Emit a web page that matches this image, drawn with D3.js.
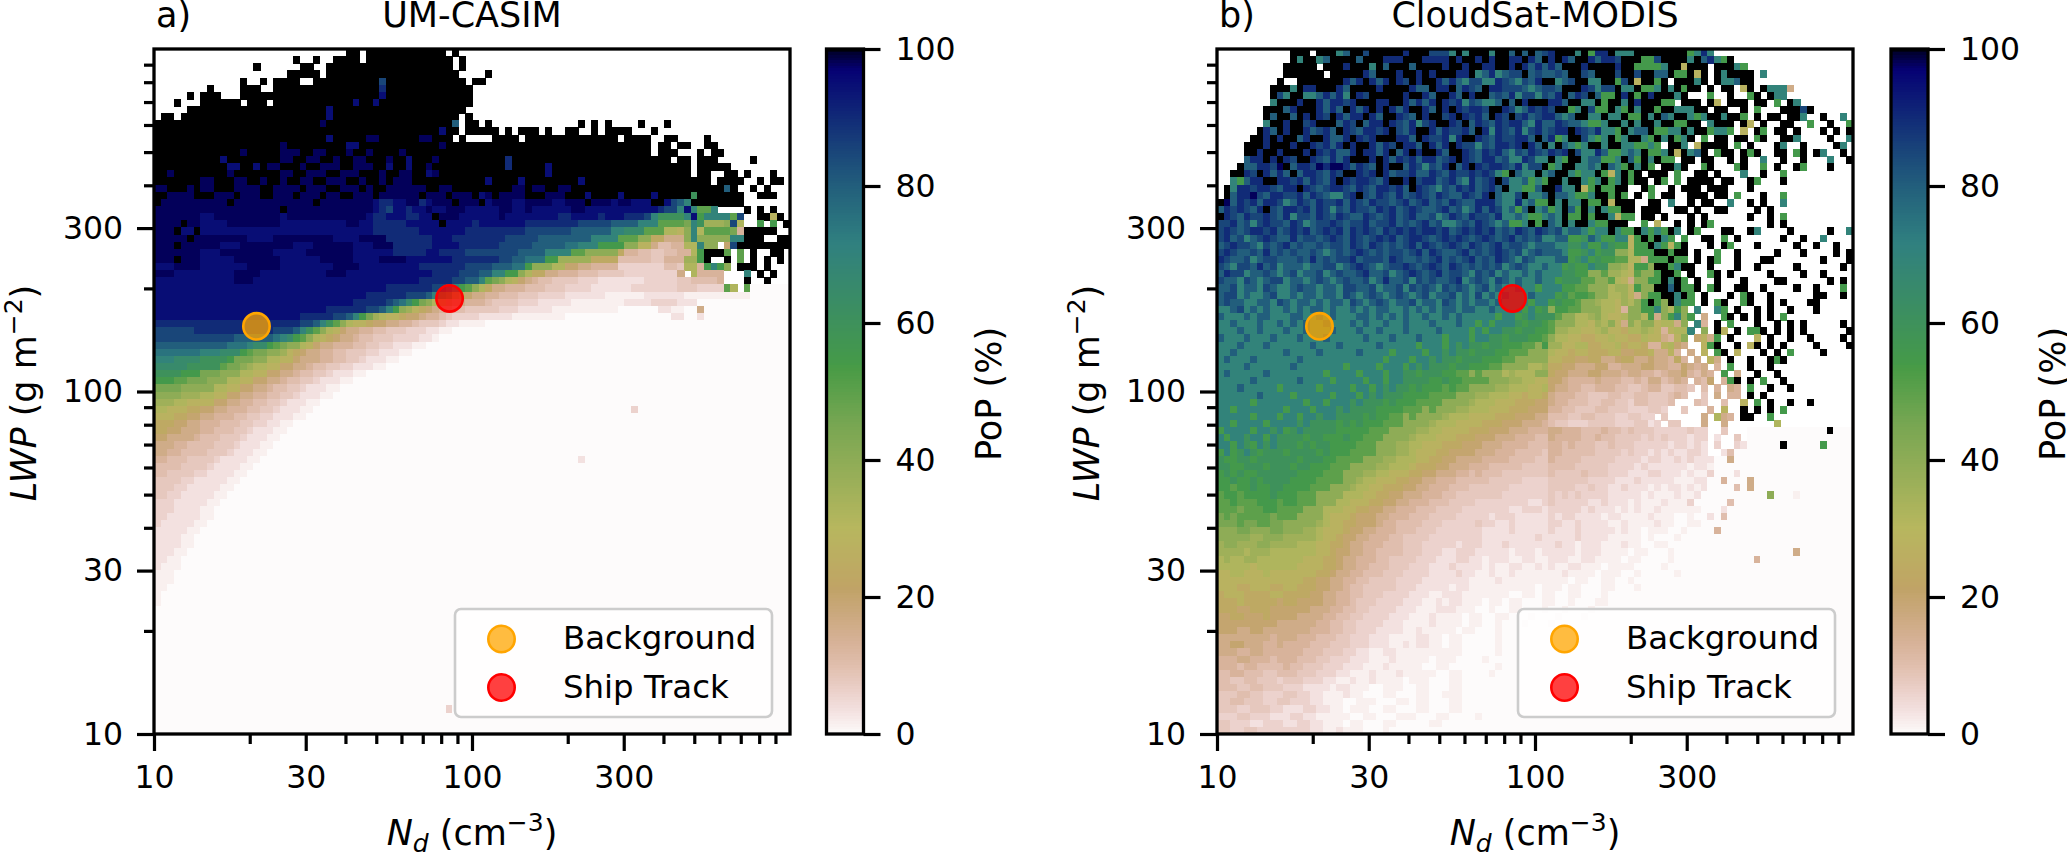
<!DOCTYPE html>
<html><head><meta charset="utf-8">
<script src="https://cdn.jsdelivr.net/npm/d3@7/dist/d3.min.js"></script>
<style>html,body{margin:0;padding:0;background:#fff}svg{display:block}text{font-family:"DejaVu Sans";fill:#000}</style>
</head><body><div id="c"></div>
<script>
const levelLetters="abcdefghijklmnopqrstuvwxyzZ".split("");
const levelValues=[0,1.5,3.5,6,8,10,13,16,20,24,28,32,36,40,45,50,55,60,65,70,75,80,85,90,95,98,100];
const xMajor=[10,30,100,300];
const xMinor=[20,40,50,60,70,80,90,200,400,500,600,700,800,900];
const yMajor=[10,30,100,300];
const yMinor=[20,40,50,60,70,80,90,200,400,500,600,700,800,900];
const cbTicks=[0,20,40,60,80,100];
const backgroundPoint=[21,155];
const shipPoint=[85,187];
const legendLabels=["Background","Ship Track"];
const panelTitles=["UM-CASIM","CloudSat-MODIS"];
const panelLetters=["a)","b)"];
const earthR=[[0,0],[.2824,.1882],[.4588,.2714],[.549,.4719],[.698,.7176],[.7882,.7553],[1,.9922]];
const earthG=[[0,0],[.0275,0],[.1098,.1893],[.1647,.3035],[.2078,.3841],[.2824,.502],[.5216,.6397],[.698,.7171],[.7882,.6392],[.8157,.6549],[.8667,.6991],[.898,.743],[.9412,.8275],[.9647,.8816],[.9961,.9733],[1,.9843]];
const earthB=[[0,0],[.0039,.1684],[.0078,.2212],[.0275,.4329],[.0314,.4549],[.2824,.5004],[.4667,.2748],[.5451,.3205],[.7843,.3961],[.8941,.6651],[1,.9843]];

const panelARows=[
".29Z2.1Z12.1Z",".21Z.2Z.2Z4.1Z13.1Z",".15Z.6Z2.2Z19.1Z",".20Z5.1Z20.4Z",".13Z.2Z.1Z4.2Z10wZ12.1Z2",
".8Z.4Z3.2Z16xZ13",".5Z.1Z3.3Z21yZ13",".3Z.3Z6.1Z3.1Z12yZ2yZ14",".5Z21yZ20",".1Z2.1Z22yZ19.1Z",
"Z25zZ19v.1Z2.1Z.13Z.1Z.1Z.4Z.3Z","Z43yZ2.1Z5.1Z.1Z3.1Z.2Z2.2Z.1Z4.3Z","Z26yZ5z2Z6z2Z3.1Z.4Z4.1Z14.1Z4.2Z2.4Z",
"Z19zZ9y2Z12zZ31.1Z2.1Z2.2Z2","Z13zZ5z3Z2z2Z3zZ2zZ4zZ37.1Z3.3Z.1Z2","Z10yZ8z2Z2z2Z2zZ2z2Z3zZ2yZ3zZ10xZ24.1Z2.1Z3.5Z",
"Z11y2Z2yZz2Z3zZ2z3Z2z3Z2yZ2yZ2zZ11xZ5yZ21.1Z5","Z2zZ8zZ7z2Z2z3Z2z3Z3zZ2z2Z2yzZ16yZ21.1Z2.2Z2.1Z.3Z",
"Z7z2Z3z2Z2zZ2zZ2z2Z2z3Z2zZ2zZz3Z11yZ4yZ8yZ19.1Z4.2Z.1Z2","z2Z3zZz2Z3z4Z2z4Zz3Z2z3ZzZ2z2z4Z2z2Z9z2Zz2Z2z2Z23vZ.2Z.1Z",
"Z2z4Z3z3Zz3Z2z3Zz3Zz2Z2z3Zz4z2Zz3Zz3ZyzZz4Z2Zz3Z3yZ4yZ4yZ5rZ7.2Z3",
"Zz10Zz12Zz8yx2y2z2xyz3Zz3Zyz3y2z4y2z3Zz3yz2y3Z2ywvtZ8",
"z19Zz13yxwy2xy2zy2z3y5z2y2zy6z2y6y5xw2tytp2t.4Z.1Z.1Z",
"z7y2z10yz12yx2y3x2y2Zz3y6zy8x2y4xy3x3wtr4tyqt4pw.2Z2kZ",
"z4Zz2y4z8y10z2y2x5y5Zy4xy7x8w5v4t3p4otrm3nwl.2q.1q.1Z",
"z3Zy2Zy26x7y7x9w7v6t2s3p3l2kntlp4ogZ5",
"z5Zz8y4z9y4z4x7y3x8w5v8t4p3n2j2h3ntn5t2Z3.2Z2",
"z3Zz6y3z8y3z6y3z3x6y4x6w5v5u2t3q4n2k2hf2g2l2tn2.1iwZ9",
"z7y3z8y5z7y6x5y2x4w8v4t4p2n5jg2f2e2f2g2lqZ3p.1p.1Z.2Z2",
"z3Zz3y5z7y6z5y4z4y7x7w2v2u3q2m5j4f5e2g3m2qZ.2Z.1p.1Z.1Z.1Z",
"y3z4y7z5y8z4y9x7w4v3u2qn3l2i2h2g4d7f2el2gqtqn.1Z3.1Z",
"z3y9z4y10z3y13x4w3v2t2q2nlj2h2g3f3e4d8h.1lg4.3t.1Z.1Z",
"y12z3y25x5w2v2tponlkihgf2e4d3c7d5e2f4g.3Z.2Z",
"y35x7w2vtqpnljh2g3f3e3d4c6d7e3d4pl.1p",
"y32x6w3vtqpmkih2g2f3e3d4c6b6c6b10",
"y30x5wvusqonlkih2g3fe4d3c5b8c4d4c3",
"y26x6w2vtqnmkjihg2f2e5d3c5b10a6c2b2a2h",
"y22x5w2vtqomlk2ji2hg2fed4c5b8a16c2a2c",
"x22w2vtrpnlk2ji2h2g2fe3dc2b4",
"w6x12w3vtrpnlkih2g2f2e3d3c2b2",
"w12v6utsqpnlkjih2gf2e3d4c2b",
"v11u3ts2qpon2lkih2g3f2e2d2c3b2",
"u7t3s3qpo2n2mkjih2g2f2e3d2c3b2",
"t3s4r4qo3n2l2k2ih3g2f2e2dc3b2",
"s5r5po2nml2k2i2h2gf2e2d2c3b2",
"r4q3o3n3l2k2i2h2gf2e2dc3b2",
"q3p2o3n3l2k2i2h2gf2e2dc3b2",
"o4n5l2k2i2h2gf2e2dc3b2",
"n4m3l2k2i2h2g2f2e2dc3b2",
"m3l2k4i2h2g2f2e2dc3b2",
"l2k3j2i2h2g3f2e2dc3b2a48d",
"k3j2i2h2g3f2e2d2c3b2",
"j3i2h2g3f3e2d2c2b2",
"j2i2h3g2f3e2dc3b2",
"i2h4gf3e3dc3b2",
"h3g2f4e3dc3b2",
"h2g2f4e3dc3b2",
"g2f3e4dc4b2a48c",
"f4e4dc4b2",
"f2e4d2c4b2",
"e4d2c5b2",
"e3d2c5b2",
"e2d2c5b2",
"d3c5b2","d3c4b2","d2c5b2","dc5b2","c5b2","c4b2","c4b2","c3b2","c2b2","cb3","b3","b3","b2","b","b",
"a","a","a","a","a","a","a","a","a","a","a","a","a","a",
"a44d","a","a","a"
];
const panelBRows=[
/*0*/".......... .ZZZ.ZZZtv ZZwZZZZZxZ ZZwwwtZtZZ ZtZZvZvZvw xZZZtZqxxZ tttZZZZZZZ Zqtxt..... .......... ......",
".......... .ZtZZtvZZZ ZvZZZxxxZZ ZxxxxZxZZx ZxZZxxZxvZ xZxvZZxvxx wZZZqqwZZZ ZtZvxtqZ.. .......... ......",
".......... ZZZZZ.ZZZx ZZZtZvZZZv ZZZZxZZxZZ xxZZxZxvxv xvZZZxZZZZ xZZqqqqtZZ kZZZ.ZZZtq .......... ......",
".......... ZZZZZZ.ZZZ ZZxvZZZxZZ xZxZZZxxZt vxtvwwZvwv vwvZZwvZZZ wZZwZZvvZq qZkZ.ZtZZZ Z.t....... ......",
".........Z ..ZZZZZZZx vxZxvxZxwZ xZZxvxvtww ttxwvtwvxZ ZtvwZZttZZ qwZkZZqZ.Z ZZtZ.ZttvZ Z......... ......",
"........ZZ ZtZxxZZZxv ZZZZxZZZZx vvZxxZvxwv Zxxwwwvtvw wvZZZxwtww ZttZqqtZtZ qZZ.Z.ZZ.k Z.Zttth... ......",
"........Zw tZZttvxvxt ZxwZZZZZxZ ZxvZZxvZxZ Zvwvxtwwtw vxZvxwZvqq ZxZqZxZZZt Z...q..Z.. qZ.Ztt.... ......",
"........tZ ZZxZZxvxxw xZZZxxZZxv xvxZxwxtwv ttvZvZxZZZ xxvZZttZqZ ZtZxZZZqq. ZZZ.Zk.ZZZ .ZZ.q.Zt.. ......",
".......ZZZ vxZZZxvxvZ xvxZxZxvxZ ZxvZxZxwxx wZZxwtvxwx wZZqtZwqqZ tqZtZZqZZt ttZZ.ZZ..Z .q...ZZZwZ ......",
".......ZvZ ZvZxZxwZxv xxZxvZZxwv ZxZZwxZxwx vZxwZwxvwx xvtvZZttZt tZqqZtZvtZ ZtqtZZtZZq .Z.ZZ.ZZt. .Z..t.",
/*10*/".......tZZ xZZwxZZZvx wZvxxZxwvx twxZZxwZvx wvxwxxvtxv vxwvvtqqtZ ZtZtZZtZZq qZZ.tZZZ.Z k.Z..ZZ..q ..Z..q",
"......ZxvZ xZZxvwxvZx wvxxwxZwvx ZZxvxwwxvZ xtxwvxtwxv wxxZxwvxtt qZtvvZqqtt ZtZZqttq.k .Zq.ZZ.Z.. .Z.Z.Z",
".....ZZxZx ZZvxZZxvvx ZxwxZZZxxv ZxwwxtxZZx wvxwwxxvZv xqtZZwtqtZ qtZZtqZtZq tZ.q.ZZ.ZZ .qZ..ZZt.. ..Z..t",
"....ZZZxZZ ZxZZxwxvxZ xZZxvxwZxx vZxvxZxwwt wvxxwxZxvZ tZvtqtZZtZ Zttqqtq.ZZ t.kZZZZ.q. Z...Zt..Z. ...Zt.",
"....ZZxZZx ZZZxZxwxvv xZxxvxZvxZ xZZxvZZxwv xwxvtwvxwv xwxZwttxvq qtvtZqqtZk ZtvZ.qZZ.Z qZ..ZZ.qZ. Zt..Z.",
"....vxxZxZ xwZZxwvxvx ZZZxZxvxwx vxxvwxZxwv xxvwttxwtt ZtqZZtvvqq tZvqZtZqq. ZZ.ZZ..Z.Z ..t..Z..Z. ..t..Z",
"...Zvvxxwz Zvxxwzxzzx vxwvZxZZvx wtwvxZvxZx wxxwvxtwwZ qtZZttvtZv tqZtZq.ZZt Z..qZ...qZ ..q.Z..Zq. ..Z...",
"..ZZxwZxvx vZvxxwvxwZ ZxwxZxvwwx vvxwvxwwxw xwtqZvttZt vZZtqttZqk tZqZ.ZZZ.q ..ZZ.Z...t ..Z..q",
"..tqvxxZZx xwxvxwvxZx wxxwvxZZxZ wxxvwxvtxv wxZwttvqtq ZZtZZtqtZq tZqZZ.Zq.q. ZZZZ.ZZ..Z q...Z.",
".Ztxxwxxwv xxZxwvwxxw vxwvxxwxvZ xwvtwvxwxv wxvZttqqvZ ZxttZkqZqq ZZ..Zq..Z. ZZZ.ZZZ... Z.....",
/*20*/".Zvxxzwvxx wwxvxwvttw xZwvxwvxvw xwvxwvvxwv xZvttwZttv ZvvtqqtZZq Zq.Z.q.ZZ. .ZZZ.ZZ.q. ..Z..q",
"Zzvxwxvxxw tvxwvxwwxv xwvxwwvwxv wxvwvxwvvx xxvttxtvqq ZtZttZqqZk ZZZ..ZZ.t. .Z.ZZ..t.. Z.Z..t",
"vxwxwvxZwv xxwxvxwtwv xwwvxwxvwx wvvwxvwtvx vxwtvqvZtv qtZvqZtZtq qZZ.ZZZ..Z Z.Z..ZZ... .Z.Z..",
"Zxwvxwwxwv xtwwvxwvxw vvxwvwxvwx vvwtvxwvxw wvxttvtqqt vtZqqZqZZt kqq.ZZ.Z.. .Z.Z...... Z..Z.q",
"wwxvwtwxww vxwtvwwxwv wwxvwwxvwv wxvwttvwvx wvtvqqtZqZ vtZtZZtqqZ ZZ..q.k..Z .Z.Zq..... ...Z.Z",
"wxwvwxxwxv wxwxvwxwxv xwxwvxwxwx wxxwxvwxwx wxvwvxwvxw vwtvvtqttZ tqqZtqtqZt .Zq...ZZ.. Zt....Z... ..Z..t",
"wxvwtvwxwv vxvwwvwxwv xwvwxwxvwx xwvwxwxwvw xwvwxvwvwt tvvqqrvtqq ttkqZqZtq. q..ZZ.q.Z. .....Z..Z. .t....",
"vwxwwvtwvw xvwvvwvwwv xwvxwvwvwx vxwvwxwvxw vwxvwwvtvv vttrrtqqtr qqkqqZtqkq Z...Z.Zq.. .Z.....Z.. Z..Z..",
"wxwvvwvxvw vwvvwvtvwv wxwvwvwwvw xvxwvvwxvw vwxwvwtvwv vvtqqrtqrr nnlqqqZZqZ Z.Z..q..Z. ....Z...Z. ...Z.Z",
"xwvvwtvwwv vvwvxvwvww xvwwwvxwvv wvwxvwvwxv wvxwvtwvtt tvvqrtqrqq ppllhqqqZq q.Z.Zq..Z. ..ZZ...... .Z...Z",
/*30*/"wvtwwvxvwt vvvtvvwwtv wxwvtvwwxw vwxwvxwvwv wvwtvwvttv ttqrqqtrrn nmkqqnZZqt ZZ..Z...Z. .Z.....Z.. ....Z.",
"vxwwtvvwvt vwtvvwtvwv vwxvvwtvwx wvwxvwwvtw vwtvttvtvt ttrrqqnnpm mlkpnnqZZq .Z..qZ.Z.. ...Z....Z. .Z....",
"wvvtwvtvww tvvtvwvtvw vvwtvxvvwt wvwvvwxtvw vtwvtvttvt tqrrrppnnp lkhnnqqZtZ q.Z..Z...Z ....ZZ.... ..Z.Z.",
"vvwtvvtwvt tvwvvtvvtw wvvwtvvwtw vwvtwvwvtv wtvttvttqt ttqqppnnnl mmkqnnZZvZ qqZ.qZ..ZZ ..Z....Z.. Z...q.",
"vwwtvttvwt tvtvvtvvtw vtvwvtvwvt vwtvvwtvtw tvtvtttvtt tqrpqqpnnl lmkhnqqZZt Zq.Z...Z.q Z..Z...... ZZ..Z.",
"vwvvttvvtw vtvvtvtvvt wvtvwvtvvw tvvtwvtvtv vtvttttqtt qrqqpnnmll kmlnqZqnZt qq.Z.qZ..q Z..Z.Z...Z Z.....",
"ttvwtvtvtt vtvtvvtvtt vtvtvvttvt vtvtvvtvvt tvttttqtqr nqqppnnnll kgnnqqtnlq n.t..tq.Z. .Z.Z..Z... Z.....",
"vtttvtvvtt tvvttvtvtt tvvtvtvtvt tvttvtvttt ttqttqrtrr rpnnllmnlk klnnlqhnqt nq.h..qZ.Z .Z.Z.q.... ......",
"ttvtttvttv tvtvttvttt vtvttvttvt ttvtttvttq tqtttrqrrq pnnnllkmln khnlnnkllh n.tg.Z.q.. .Z..Z.Z.Z. ....Z.",
"tttvttvttt vttvtttvtt tvttvtttvt tttvttttqt qttrrqrrqq pmmllkklmk kjllmlkgkl lt.n.Zk.Z. qqZ.Z.Z.Z. .....Z",
/*40*/"vtttvtttvt ttvtttvttt ttvtttvttt vtttqtttqt trrqrrrqqp nllkkjjkkl kkjjlkkhgk n.ikhq.Z.. .k.Z..Z..Z ....Z.",
"tttvtttvtt ttttvtttvt ttttvttttt qtttqtrtrr qrrqqqppnq mmkklljjkk ljkkjggkli h..kqZ..Z. kZ.Z.Z.... Z....Z",
"ttvttttttt vttttvtttt tvttttqttt tqttrtrrqr rrqqpppnnn lkkjkkjjjk kiijjkhhkg .h.k.qZ.k. ..Z.Z.q... .Z....",
"tvtttvtttt ttvttttttt tttttqtttq ttrtrrqrrr qqqppnnnnn kkjjiijjhh ijjhhihhgj g.h.kh.Z.. Z..ZqZ.... ......",
"ttttvttttt tvtttttttq ttttqtttqt rtrrrqrrqq qppnnnnllm jjiihhhiig ghhhiihhgg ihgh.g.q.. Z..Z...... ......",
"tvtttttvtt ttttttqttt tqtttqttrr qrrrqqppnp nnnlmlllnn jiihhhiihh hghhggfghh igfhg.q.h. .Z..Z..... ......",
"tttttvtttt ttvttttqtt ttqttqttrr rrqqrqqppp pnnnmmllkk iihgggghgg gffgfhhfgh g.gfi.gqZ. Z.q..Z.... ......",
"tttvtttttq tttttqtttt qttqtrtrrq rqqqpqppnn nnmmlllkkl ihhggffggg ffeefggeef fe.f.g.hg. q..Z..Z... ......",
"ttttttvttt tqtttttqtt tqtrtrrrqq qqppppnnnm mlllkkjkkj hgggffeeef feeffeeefg f..e.h.gg. Z.Z....... ......",
"tttttqtttt tttqttqttt rtrrrqrqqq ppppnnnnml llkkkjjjii hggfffeeff eedffeeef. ..fe..f..k .q.Z..Z..Z ......",
/*50*/"ttqttttttt qtttqtttrt rrrrqqqqpp pnpnnnmmll lkkkjjjiii ggffeeeffe eedddeed.. e...g.k..Z .Z.Z.q.... ......",
"tttttqtttq ttqttrttrr rrqrqqppnp nnnnmlllkk kkjjjiiihh fffeeffeee ddeedd.e.. ...h.lhg.Z Z..q...... ......",
"ttqttttqtt ttrtrrrrqr qrqqqpppnn nnmlllkkkk jjjiiihhhg feedddeeee dddeecd.ee ...h..h... ....l..... ......",
"qttttqttrt qrtrrrrrqq qqqpppnnnn mmllkkkkjj jiiihhhggg hhgggfffgf fefeeedddd dedd..e...@92Z",
"tqttrttqtr rrrqrrqqqr qqpppnnnnm lllkkkjjji iihhhgggff hggggffgff eeeedededd dcdd.c..e.",
"ttqtrqtrtr rrqrqrrqqq qpppnnnmml lkkkjjjiii hhhggggfff ggfgfffeef eeedddddcd dcdc.d..dc@85Z@91q",
"qtqrtrqrrr qrrrrqrqqq ppppnnnmml kkkjjiiiih hhgggffffe ggfffffeee ededdcdcdc cddc..c.cc@77f",
"rqqrrqrrrr rrqrrrqqpp ppnnnmmlll kkjjiihhhh ggggffffee gffffeeeee ddddcddccd cdccc@77h",
"rrqqrrrqrr rqrrqqqppp nnnnmmlllk jjjiihhhgg gfffffeeee ffffeeeeed dddcdccccc cbccb",
"qrqrqqrrrr rrqqqqpppn nnmmllkkkj jiihhhggfg fffeeeeeee feeeefeeed ddcccddccc bcbbc@74d@78c",
/*60*/"qqrqqrqrrr rqqqqppppn nmllkkkjji ihhgggffff feeeeedddd eeeeeedddd cccdcccccb bbcc@76g@80h",
"qqpqqrqqrr qqqqpppnnn mllkkjjjii hhgggfffee eeeedddddd eeeeddeddc cdcccbcbcc bcb@73c@78f@80h",
"pqqpqqqqrq qqpppnnnnl llkkjjiihh hgggffeeee eeeddddddd edededdddc ccccbcbbbc bbb@72c@83n@87b",
"ppqpppqqqp qqpppnnnll kkkjjiihhg ggfffeeeed dddddddccd edddddccdc ccbcbbbcbb bb@71d@77f",
"pppopppqqp pppnnnlllk kjjiihhggg fffeeeeddd ddddccdddc dddddcdccc bcbcbbcbbb bbb@76c",
"opopppppop ppnnnnlkkk jiiihhgggf ffeeeedddd dcdddccccc dcddccccbc cbbbbcbbba ab@74c@76f",
"ooopooppoo nnnnnmlkkj jiiihggfff feeeddddde ddccdccccc ddccdccccb bcbbbbcbba abb",
"nnnoonnnoo nnnmmlkkkj iihhgggfff eeeddddddd ccccdccccc dcccdccccc bcbbabbbaa b@75g",
"nnnnnmmnnn mmmmmlkkji ihhgggffee eedddddddd ccccccccdc ccccdccccb bbbbabaaab",
"mnnmmmnnmm mmlllkkjji hhgggfffee edddddcddd cccdcccccc cdccbcccbb bcbbaabbaa",
/*70*/"mmmmlmmmll lllllkkjii hhggffffee edddccdddc ccccbcccbc ccccbcccbb bbabbaaaba@87h",
"lmllmmllll lllkkkjjih hgggffeeee dddcccddcc bcccbbccbb cccbbccbbb babbaaaaba@81g",
"lllllkllll llkkkkjjih hggfffeeed ddcccdcccc bcbbccbbcb cbbccbbbab bbbaaaabaa",
"kkllkkklkk kkkkkjjihh ggfffeeedd ddccccdccb bcbbcbbbbb bbcbbbbabb baabaaaaab",
"kkkkkkkkkk kkkjjiihhg gffeeeeddd dcccccccbb bbcbbbbbbb bbbabbaabb aabaaaa",
"kkkjjkkkjj kkjjjiihhg ffeeeeeddd cccccbccbb bbbbbbbbab bbabbaaabb aaabaaa",
"jkkkjjjjkk jjjjiihhgg ffeeeddddc ccbbcccbbb bbbbaabbab baabbaaab",
"jjjkjjjjji jjiiiihhgg feeeddddcc cbbcbccbbb abbabbaaab baabaaabb",
"jjjiijjjii iiiihhhggf feeddddccc bbbcccbbba abaabbaaab aabaaaba",
"iijjiiijii iihhhhggff eeddddcccb bbcbbbbabb aabbaaabaa abaaab",
/*80*/"iiiiiiiiih hhhhhggffe eddddcccbb bbcbbbbabb aabaaabaaa b",
"iiihhiihhh hhhhgggffe edddccccbb cbbbbbabba aabaaaaaaa",
"hhhhhhhhgh hhgggfffee dddcccbbbb ccbbabbaaa aabaaaaaaa",
"hhiihhhggh ggggfffeee dddcccbbcb ccbbabbaaa aabaaaaaaa",
"hhhgghhggg gggfffeeed dccbbccbbb bbbbbbbaaa aabaaaaaaa",
"ggghhgggfg ggfffeeddd cccbbbcbbb bbabbbaaaa baaaaaaaaa",
"gggfggffff gffeeedddc ccbbbcbbbb baabbaaaaa aabaaaaaaa",
"ffggfffeef ffeeedddcc bbbcbbbcbb bbbaabbaaa abaaaaaaaa",
"ffeeffeeed eeedddccbb cbbcbbbbab bbaaabbaaa",
"fffeeffeee dddccccbcc bbbaabbbaa bbaaabbaaa",
/*90*/"eeeffeeddd eeddccbbbc bbaaabbaaa bbaabbbaaa",
"eeffeeedde edddccbbba abbbaaabba bbaaabbaaa",
"eeeddeeedd cccddccbba bbbaabbaaa bbaaabbaaa",
"dddeedddcc cddccbbbbb aabbaaabbb aaabbaaaab",
"eedddccddd ccddccbbba bbaaabbaaa aabb",
"eeddeedddd ddddccbbcb bbaaabaaaa"
];
const nBins=96;
function decode(rows,padFrom){
  return rows.map((s,ri)=>{
    const out=[];
    const re=/([.a-zA-Z@])(\d*)/g;let m;
    while((m=re.exec(s))){
      if(m[1]==="@"){const n=+m[2];while(out.length<n)out.push("a");out.length=n;continue;}
      const n=m[2]===""?1:+m[2];
      for(let i=0;i<n;i++)out.push(m[1]);
    }
    const pad=ri>=padFrom?"a":".";
    while(out.length<nBins)out.push(pad);
    out.length=nBins;
    return out;
  });
}
const W=2067,H=853;
const svg=d3.select("#c").append("svg").attr("width",W).attr("height",H);
const stopScale=a=>d3.scaleLinear().domain(a.map(d=>d[0])).range(a.map(d=>d[1]));
const sr=stopScale(earthR),sg=stopScale(earthG),sb=stopScale(earthB);
const cmap=v=>{const t=1-v/100;return `rgb(${Math.round(255*sr(t))},${Math.round(255*sg(t))},${Math.round(255*sb(t))})`;};
const levelOf=new Map(levelLetters.map((l,i)=>[l,levelValues[i]]));
const binEdges=d3.range(nBins+1).map(i=>Math.pow(10,1+2*i/nBins));
const axTop=49,axBottom=734,axW=636,spine=3.3;
const mk=(tag,sel,o)=>{const e=sel.append(tag);for(const k in o)e.attr(k,o[k]);return e;};

function panel(idx,rows,ax0,cb0){
  const g=svg.append("g");
  const x=d3.scaleLog().domain([10,1000]).range([ax0,ax0+axW]);
  const y=d3.scaleLog().domain([10,1000]).range([axBottom,axTop]);
  const cells=[];
  decode(rows,33).forEach((row,ri)=>row.forEach((ch,ci)=>{
    if(ch!=="."&&levelOf.has(ch))cells.push({ri,ci,v:levelOf.get(ch)});
  }));
  g.append("g").attr("shape-rendering","crispEdges").selectAll("rect").data(cells).join("rect")
    .attr("x",d=>x(binEdges[d.ci])).attr("width",d=>x(binEdges[d.ci+1])-x(binEdges[d.ci])+.6)
    .attr("y",d=>y(binEdges[nBins-d.ri])).attr("height",d=>y(binEdges[nBins-d.ri-1])-y(binEdges[nBins-d.ri])+.6)
    .attr("fill",d=>cmap(d.v));
  const pts=[[backgroundPoint,"orange"],[shipPoint,"red"]];
  g.selectAll("circle.pt").data(pts).join("circle").attr("class","pt")
    .attr("cx",d=>x(d[0][0])).attr("cy",d=>y(d[0][1])).attr("r",13.2)
    .attr("fill",d=>d[1]).attr("fill-opacity",.75).attr("stroke",d=>d[1]).attr("stroke-width",2.6);
  const lx=ax0+301,ly=609;
  mk("rect",g,{x:lx,y:ly,width:317,height:108,rx:6,fill:"#fff","fill-opacity":.8,stroke:"#ccc","stroke-width":2.6});
  legendLabels.forEach((t,i)=>{
    const cy=ly+30+i*48.5;
    mk("circle",g,{cx:lx+46.5,cy,r:13.2,fill:pts[i][1],"fill-opacity":.75,stroke:pts[i][1],"stroke-width":2.6});
    mk("text",g,{x:lx+108,y:cy+10,"font-size":32.4}).text(t);
  });
  const axStyle=(a)=>{a.select(".domain").remove();a.selectAll("line").attr("stroke","#000").attr("stroke-width",3.2);a.selectAll("text").attr("font-size",31.5).attr("font-family","DejaVu Sans").attr("fill","#000");};
  const fmt=d=>String(d);
  const xa=g.append("g").attr("transform",`translate(0,${axBottom})`);
  xa.append("g").call(d3.axisBottom(x).tickValues(xMajor).tickFormat(fmt).tickSize(17).tickPadding(15)).call(axStyle);
  xa.append("g").call(d3.axisBottom(x).tickValues(xMinor).tickFormat("").tickSize(10)).call(axStyle);
  const ya=g.append("g").attr("transform",`translate(${ax0},0)`);
  ya.append("g").call(d3.axisLeft(y).tickValues(yMajor).tickFormat(fmt).tickSize(17).tickPadding(14)).call(axStyle);
  ya.append("g").call(d3.axisLeft(y).tickValues(yMinor).tickFormat("").tickSize(10)).call(axStyle);
  mk("rect",g,{x:ax0,y:axTop,width:axW,height:axBottom-axTop,fill:"none",stroke:"#000","stroke-width":spine});
  mk("text",g,{x:ax0+2,y:27,"font-size":35}).text(panelLetters[idx]);
  mk("text",g,{x:x(100),y:27,"font-size":35,"text-anchor":"middle"}).text(panelTitles[idx]);
  const xl=mk("text",g,{x:x(100),y:845,"font-size":35,"text-anchor":"middle"});
  xl.append("tspan").attr("font-style","italic").text("N");
  xl.append("tspan").attr("font-style","italic").attr("font-size",25).attr("dy",7).text("d");
  xl.append("tspan").attr("dy",-7).text(" (cm");
  xl.append("tspan").attr("font-size",25).attr("dy",-14).text("\u22123");
  xl.append("tspan").attr("dy",14).text(")");
  const yl=mk("text",g,{transform:`translate(${ax0-118},393) rotate(-90)`,"font-size":35,"text-anchor":"middle"});
  yl.append("tspan").attr("font-style","italic").text("LWP");
  yl.append("tspan").text(" (g m");
  yl.append("tspan").attr("font-size",25).attr("dy",-14).text("\u22122");
  yl.append("tspan").attr("dy",14).text(")");
  const cw=37;
  const cy=d3.scaleLinear().domain([0,100]).range([axBottom,axTop]);
  g.append("g").attr("shape-rendering","crispEdges").selectAll("rect").data(d3.range(256)).join("rect")
    .attr("x",cb0).attr("width",cw).attr("y",d=>cy((d+1)/256*100)).attr("height",d=>cy(d/256*100)-cy((d+1)/256*100)+.6)
    .attr("fill",d=>cmap((d+.5)/256*100));
  const ca=g.append("g").attr("transform",`translate(${cb0+cw},0)`);
  ca.call(d3.axisRight(cy).tickValues(cbTicks).tickSize(17).tickPadding(15)).call(axStyle);
  mk("rect",g,{x:cb0,y:axTop,width:cw,height:axBottom-axTop,fill:"none",stroke:"#000","stroke-width":spine});
  mk("text",g,{transform:`translate(${cb0+174},394) rotate(-90)`,"font-size":35,"text-anchor":"middle"}).text("PoP (%)");
}
panel(0,panelARows,154,826.5);
panel(1,panelBRows,1217,1891);
</script></body></html>
